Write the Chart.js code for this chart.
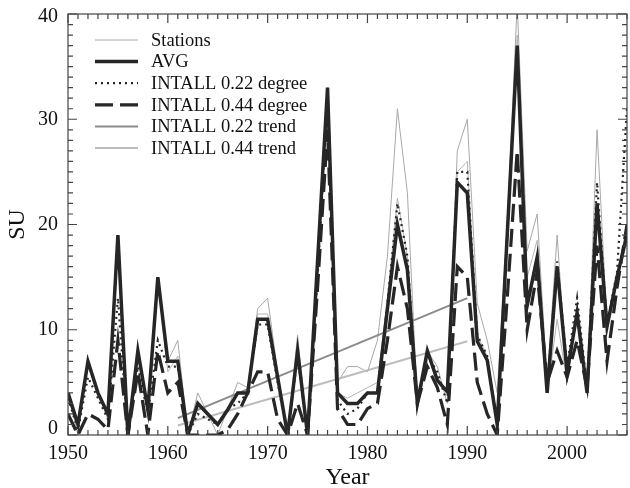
<!DOCTYPE html>
<html>
<head>
<meta charset="utf-8">
<script src="https://cdn.jsdelivr.net/npm/chart.js@4.4.1/dist/chart.umd.min.js"></script>
<style>
  html, body { margin: 0; padding: 0; background: #fff; }
  canvas { display: block; }
</style>
</head>
<body>
<canvas id="c" width="630" height="488"></canvas>
<script>
// Summer days (SU) per year, 1950–2006
const years = [1950,1951,1952,1953,1954,1955,1956,1957,1958,1959,
               1960,1961,1962,1963,1964,1965,1966,1967,1968,1969,
               1970,1971,1972,1973,1974,1975,1976,1977,1978,1979,
               1980,1981,1982,1983,1984,1985,1986,1987,1988,1989,
               1990,1991,1992,1993,1994,1995,1996,1997,1998,1999,
               2000,2001,2002,2003,2004,2005,2006];

// individual stations
const stationA = [4,0,7,4,1.5,19,0,8,2,15,
                  7,9,0,4,2,0,2.5,5,4.5,12,
                  13,6,0,9.5,0,16.5,33,5,6.5,6.5,
                  6,9,17,31,23,3,8,6.5,3,27,
                  30,12.5,9,4,20,41,17.5,21,5,19,
                  5,12,4,29,10.5,15,20];
const stationB = [3.5,0.5,6.5,4,1.5,18.5,0,7.5,2.5,14.5,
                  6,7.5,0,3,2,1,2.5,4,4,11.5,
                  11.5,5.5,0,8,0,16,32.5,4,3.5,4,
                  4.5,5,13,22.5,17,3,7.5,5.5,4,25,
                  26,9.5,7.5,1.5,19,38,15,18.5,4,11,
                  5,12,4,22,10,15,19];

// station average
const avg = [4,1,7,4,2,19,0,8,2.4,15,
             7,7,0,3,2,1,2.4,4,4,11,
             11,5.5,0,8,0,16.5,33,4,3,3,
             4,4,12,20,15.7,3,8,5.2,4.1,24,
             23,8.9,7.1,1,19,37,12.3,16.9,4,16,
             5.9,11.6,4,22,10.3,15,19];

// interpolated series
const intall022 = [3.5,0.5,5.5,3.5,1.5,13,0,6.5,2,9,
                   6.5,6.5,0,2,1.5,1,2.5,3,4,10.5,
                   10.5,5,0,7.5,0,15,32,3.3,2,2.5,
                   4,4,12.5,22,17,3,7.5,6,3,25,
                   25,9.5,7.5,1,19,37,12.5,17,4.5,16.5,
                   6.5,13,4.5,24,10.5,15.5,31];
const intall044 = [2,0,2,1.5,0.5,9,0,6,0,8,
                   4,5,0,0,0,0,0.5,2,4,6,
                   6,1.5,0,3,0,14,29,2.5,1,1,
                   2.5,3,9,16,12,3,6.5,4.5,1,16,
                   15,5,2,0,13,27,10,15.5,5,8,
                   5.5,9,4.5,18,7,14,20];

// linear trends 1961–1990
const trendYears = [1961, 1990];
const trend022 = [1.6, 13.0];
const trend044 = [0.9, 8.9];

const xTickLabels = [1950, 1960, 1970, 1980, 1990, 2000];
const yTickLabels = [0, 10, 20, 30, 40];

const pts = (xs, ys) => xs.map((x, i) => ({ x: x, y: ys[i] }));
const SERIF = '"Liberation Serif", "Times New Roman", serif';

// inward minor/major ticks on all four sides, the frame, and y labels
// (end labels are nudged inside the frame)
const frameTicks = {
  id: 'frameTicks',
  afterDatasetsDraw(chart) {
    const { ctx, chartArea: a, scales: { x, y } } = chart;
    ctx.save();
    ctx.strokeStyle = '#444';
    ctx.lineWidth = 1.2;
    ctx.beginPath();
    for (let yr = x.min; yr <= x.max; yr++) {
      const px = x.getPixelForValue(yr);
      const len = yr % 10 === 0 ? 9 : 5;
      ctx.moveTo(px, a.bottom); ctx.lineTo(px, a.bottom - len);
      ctx.moveTo(px, a.top); ctx.lineTo(px, a.top + len);
    }
    for (let v = y.min; v <= y.max; v++) {
      const py = y.getPixelForValue(v);
      const len = v % 10 === 0 ? 9 : 5;
      ctx.moveTo(a.left, py); ctx.lineTo(a.left + len, py);
      ctx.moveTo(a.right, py); ctx.lineTo(a.right - len, py);
    }
    ctx.stroke();
    ctx.strokeRect(a.left, a.top, a.right - a.left, a.bottom - a.top);

    ctx.fillStyle = '#111';
    ctx.font = '20px ' + SERIF;
    ctx.textAlign = 'right';
    ctx.textBaseline = 'middle';
    yTickLabels.forEach(v => {
      const py = Math.min(Math.max(y.getPixelForValue(v), a.top + 3), a.bottom - 6);
      ctx.fillText(String(v), a.left - 10, py);
    });
    ctx.restore();
  }
};

// legend in the upper-left corner of the plot
const legendBox = {
  id: 'legendBox',
  afterDraw(chart) {
    const { ctx, chartArea: a } = chart;
    const items = chart.data.datasets.filter(d => d.legendRank !== undefined)
      .sort((p, q) => p.legendRank - q.legendRank);
    let yy = a.top + 26;
    items.forEach(d => {
      ctx.save();
      ctx.strokeStyle = d.borderColor;
      ctx.lineWidth = d.borderWidth;
      ctx.setLineDash(d.borderDash || []);
      ctx.beginPath();
      ctx.moveTo(a.left + 27, yy);
      ctx.lineTo(a.left + 70, yy);
      ctx.stroke();
      ctx.restore();
      ctx.save();
      ctx.fillStyle = '#111';
      ctx.font = '18.5px ' + SERIF;
      ctx.textBaseline = 'middle';
      ctx.fillText(d.label, a.left + 83, yy + 1);
      ctx.restore();
      yy += 21.6;
    });
  }
};

const line = (extra) => Object.assign({
  pointRadius: 0, pointHoverRadius: 0, tension: 0, fill: false
}, extra);

new Chart(document.getElementById('c'), {
  type: 'line',
  data: {
    datasets: [
      line({ label: 'Stations', data: pts(years, stationA), borderColor: '#a8a8a8', borderWidth: 1, order: 7, legendRank: 0 }),
      line({ label: 'Stations', data: pts(years, stationB), borderColor: '#b4b4b4', borderWidth: 1, order: 6 }),
      line({ label: 'INTALL 0.44 trend', data: pts(trendYears, trend044), borderColor: '#bdbdbd', borderWidth: 2, order: 5, legendRank: 5 }),
      line({ label: 'INTALL 0.22 trend', data: pts(trendYears, trend022), borderColor: '#8a8a8a', borderWidth: 2, order: 4, legendRank: 4 }),
      line({ label: 'INTALL 0.44 degree', data: pts(years, intall044), borderColor: '#262626', borderWidth: 3.2, borderDash: [18, 7], order: 3, legendRank: 3 }),
      line({ label: 'INTALL 0.22 degree', data: pts(years, intall022), borderColor: '#262626', borderWidth: 2.2, borderDash: [2, 4], order: 2, legendRank: 2 }),
      line({ label: 'AVG', data: pts(years, avg), borderColor: '#262626', borderWidth: 3.5, order: 1, legendRank: 1 })
    ]
  },
  options: {
    responsive: false,
    animation: false,
    events: [],
    layout: { padding: { top: 14, right: 3, left: 0, bottom: 0 } },
    plugins: { legend: { display: false }, tooltip: { enabled: false } },
    scales: {
      x: {
        type: 'linear',
        min: 1950, max: 2006,
        grid: { display: false, drawTicks: false },
        border: { display: false },
        afterFit(s) { s.height = 53; s.paddingLeft = 0; s.paddingRight = 0; },
        afterBuildTicks(s) { s.ticks = xTickLabels.map(v => ({ value: v })); },
        ticks: {
          padding: 7,
          color: '#111',
          font: { family: SERIF, size: 20 },
          maxRotation: 0,
          callback: v => String(v)
        },
        title: {
          display: true, text: 'Year', color: '#111',
          font: { family: SERIF, size: 24, lineHeight: 1 },
          padding: { top: 0, bottom: -2 }
        }
      },
      y: {
        min: 0, max: 40,
        grid: { display: false, drawTicks: false },
        border: { display: false },
        afterFit(s) { s.width = 68; s.paddingTop = 0; s.paddingBottom = 0; },
        afterBuildTicks(s) { s.ticks = yTickLabels.map(v => ({ value: v })); },
        ticks: { display: false },
        title: {
          display: true, text: 'SU', color: '#111',
          font: { family: SERIF, size: 24, lineHeight: 1 },
          padding: { top: 6, bottom: 0 }
        }
      }
    }
  },
  plugins: [frameTicks, legendBox]
});
</script>
</body>
</html>
